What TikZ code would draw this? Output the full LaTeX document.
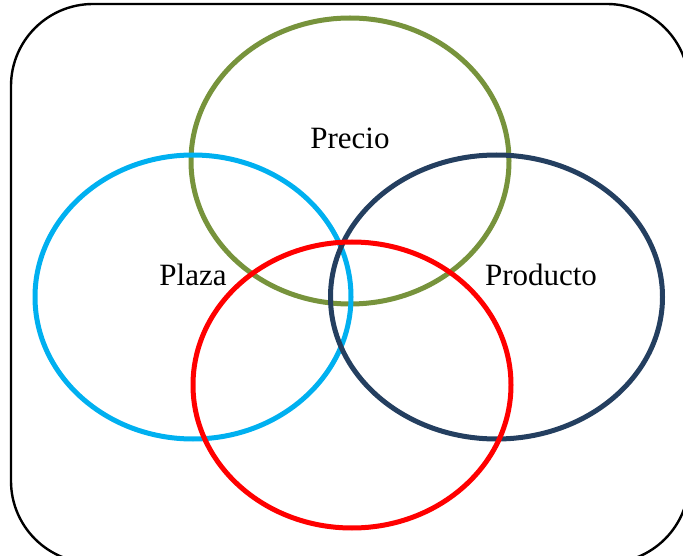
\documentclass[tikz,border=0pt]{standalone}
\usepackage{fontspec}
\setmainfont{Liberation Serif}
\definecolor{cgreen}{HTML}{77933C}
\definecolor{cblue}{HTML}{00B0F0}
\definecolor{cnavy}{HTML}{243F60}
\definecolor{cred}{HTML}{FF0000}
\begin{document}
\begin{tikzpicture}[x=1pt,y=-1pt,
  ring/.style={line width=5pt},
  lbl/.style={font=\fontsize{31}{35}\selectfont, inner sep=0pt}]
\useasboundingbox (0,0) rectangle (683,556);
% outer frame
\draw[line width=2.4pt, rounded corners=82pt] (11,4) rectangle (689,563);
% four overlapping sets
\draw[ring, cgreen] (350,161) ellipse [x radius=159, y radius=143];
\draw[ring, cblue]  (193,297) ellipse [x radius=158, y radius=142];
\draw[ring, cnavy]  (496.5,297) ellipse [x radius=166, y radius=142];
\draw[ring, cred]   (352,385) ellipse [x radius=159, y radius=143];
% labels
\node[lbl] (precio) at (350,138) {Precio};
\node[lbl] (plaza) at (193,275) {Plaza};
\node[lbl] (producto) at (541,275) {Producto};
\end{tikzpicture}
\end{document}
